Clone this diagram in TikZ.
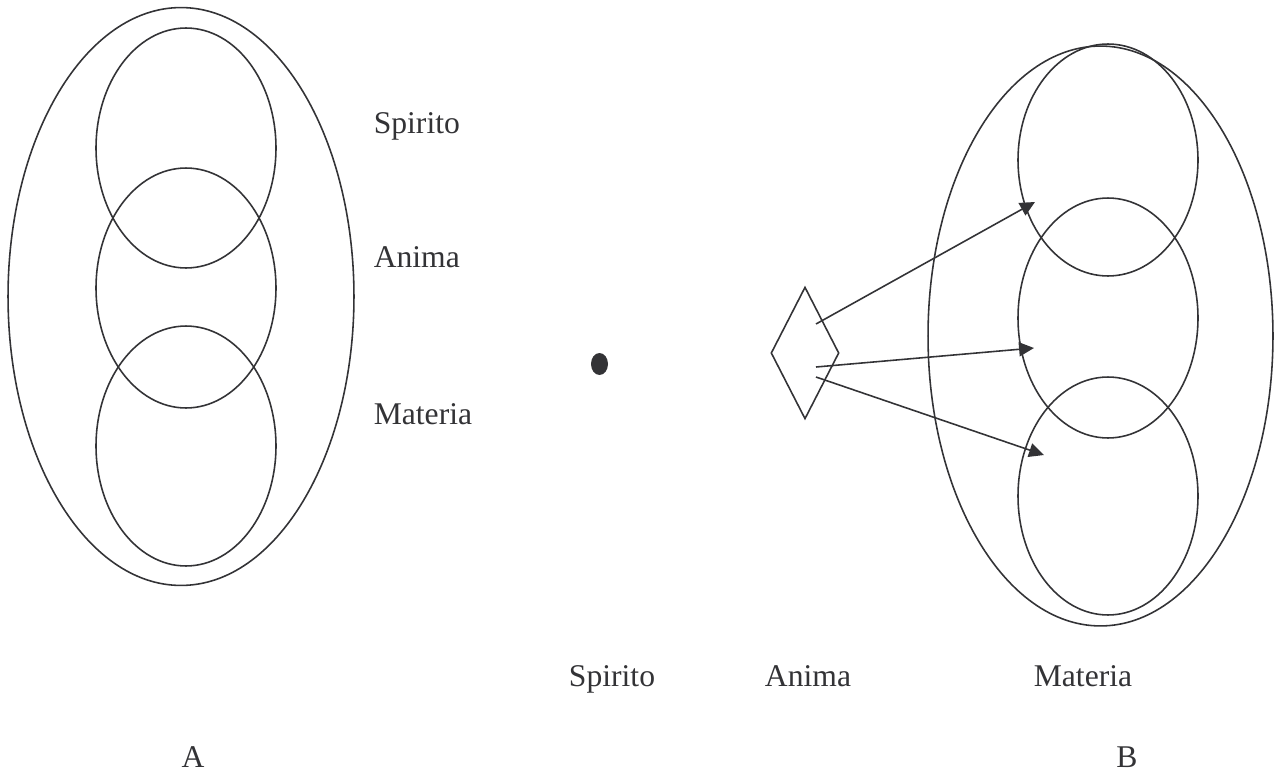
\documentclass[tikz,border=0pt]{standalone}
\usepackage{fontspec}
\setmainfont{Liberation Serif}
\usetikzlibrary{shapes.geometric, arrows.meta}

\definecolor{ink}{HTML}{333336}

\begin{document}
\begin{tikzpicture}[
    x=0.02cm, y=-0.02cm,
    color=ink, line width=0.9pt,
    shell/.style={ellipse, draw, inner sep=0pt, minimum width=6.92cm, minimum height=11.56cm},
    ring/.style={ellipse, draw, inner sep=0pt, minimum width=3.6cm, minimum height=4.8cm},
    lbl/.style={font=\fontsize{18}{20}\selectfont, inner sep=0pt},
    arr/.style={-{Triangle[length=8.5pt, width=8pt]}},
]
\useasboundingbox (0,0) rectangle (1276,774);

% A: nested figure
\node[shell] (outerA) at (181,296.5) {};
\node[ring] (spiritoA) at (186,148) {};
\node[ring] (animaA) at (186,288) {};
\node[ring] (materiaA) at (186,446) {};

\node[lbl, anchor=base west] (lSpirito) at (373,133) {Spirito};
\node[lbl, anchor=base west] (lAnima) at (373,267) {Anima};
\node[lbl, anchor=base west] (lMateria) at (373,424) {Materia};

% B: point, diamond and nested figure
\node[ellipse, fill, inner sep=0pt, minimum width=0.34cm, minimum height=0.44cm] (spiritoB) at (599.5,364) {};
\node[diamond, draw, inner sep=0pt, minimum width=1.36cm, minimum height=2.64cm] (animaB) at (805,353) {};

\node[shell, minimum width=6.9cm, minimum height=11.6cm] (outerB) at (1100.5,336) {};
\node[ring, minimum height=4.64cm] (topB) at (1108,160) {};
\node[ring] (midB) at (1108,318) {};
\node[ring, minimum height=4.76cm] (lowB) at (1108,496) {};

\node[lbl, anchor=base] (bSpirito) at (612,686) {Spirito};
\node[lbl, anchor=base] (bAnima) at (808,686) {Anima};
\node[lbl, anchor=base] (bMateria) at (1083,686) {Materia};

\node[lbl, anchor=base] (capA) at (193,767) {A};
\node[lbl, anchor=base] (capB) at (1127,767) {B};

% Arrows
\coordinate (s1) at (816,324);
\coordinate (s2) at (816,367);
\coordinate (s3) at (816,377);
\coordinate (t1) at (1035,202);
\coordinate (t2) at (1034,348);
\coordinate (t3) at (1044,455);

\draw[arr] (s1) -- (t1);
\draw[arr] (s2) -- (t2);
\draw[arr] (s3) -- (t3);

\end{tikzpicture}
\end{document}
